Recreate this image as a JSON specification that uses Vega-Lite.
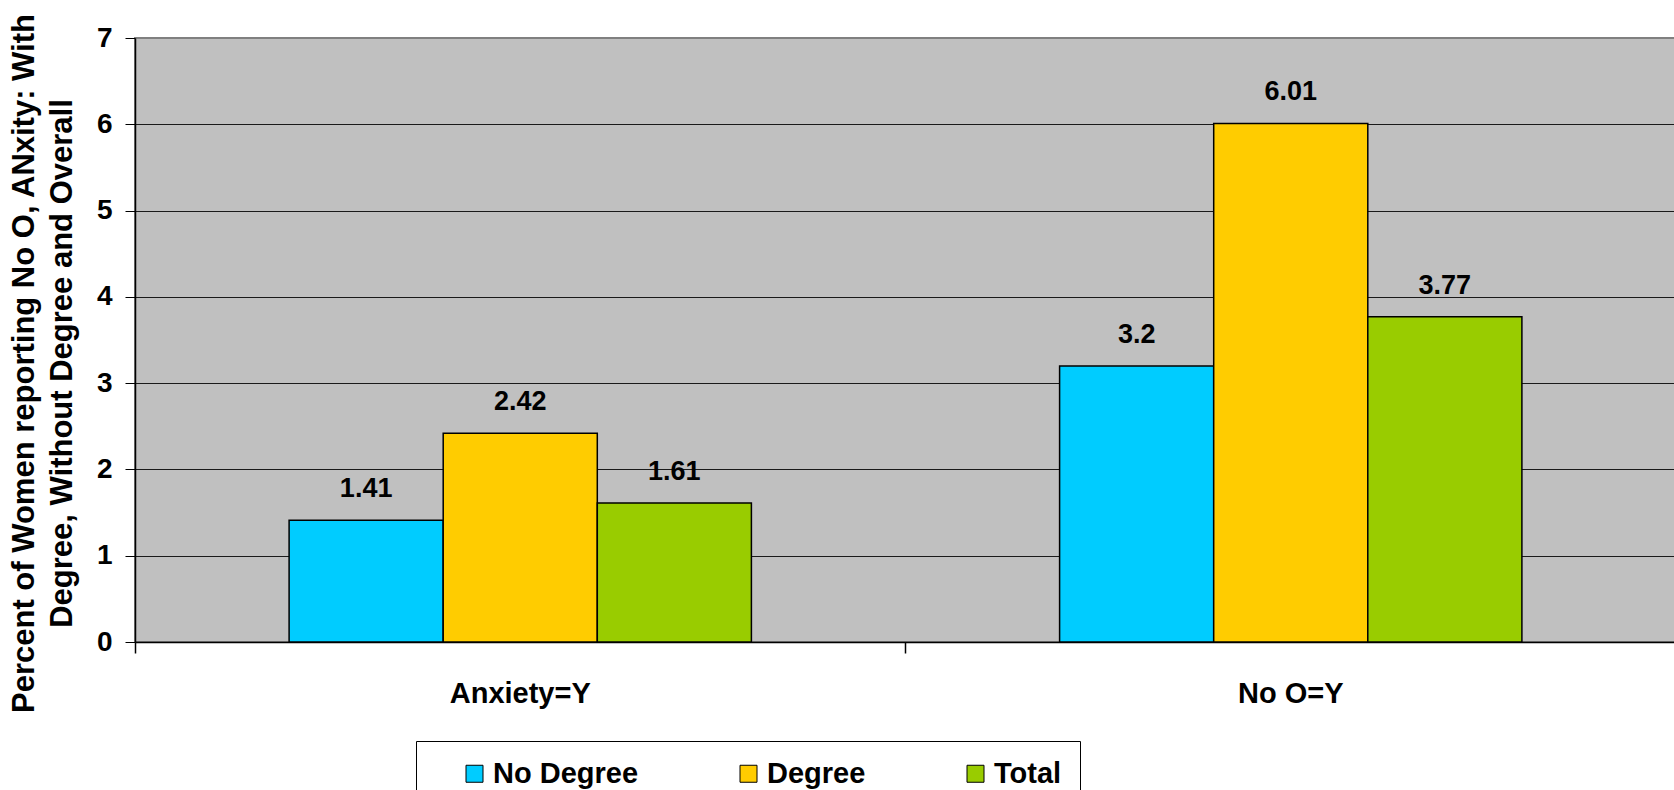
{
  "$schema": "https://vega.github.io/schema/vega-lite/v6.json",
  "width": 1541,
  "height": 604,
  "autosize": "none",
  "padding": {"left": 135, "top": 38, "right": 0, "bottom": 148},
  "background": "white",
  "config": {
    "font": "Liberation Sans",
    "view": {"fill": "#C0C0C0", "stroke": "#808080", "strokeWidth": 2}
  },
  "data": {
    "values": [
      {"group": "Anxiety=Y", "series": "No Degree", "value": 1.41},
      {"group": "Anxiety=Y", "series": "Degree", "value": 2.42},
      {"group": "Anxiety=Y", "series": "Total", "value": 1.61},
      {"group": "No O=Y", "series": "No Degree", "value": 3.2},
      {"group": "No O=Y", "series": "Degree", "value": 6.01},
      {"group": "No O=Y", "series": "Total", "value": 3.77}
    ]
  },
  "encoding": {
    "x": {
      "field": "group",
      "type": "nominal",
      "sort": ["Anxiety=Y", "No O=Y"],
      "scale": {"paddingInner": 0, "paddingOuter": 0},
      "axis": {
        "title": null,
        "labelAngle": 0,
        "labelFontSize": 29,
        "labelFontWeight": "bold",
        "labelColor": "black",
        "labelBaseline": "alphabetic",
        "labelPadding": 49,
        "ticks": true,
        "tickSize": 11,
        "tickColor": "black",
        "tickWidth": 1.5,
        "bandPosition": 0,
        "domainColor": "black",
        "domainWidth": 1.5,
        "grid": false
      }
    },
    "xOffset": {
      "field": "series",
      "type": "nominal",
      "sort": ["No Degree", "Degree", "Total"],
      "scale": {"paddingInner": 0, "paddingOuter": 1}
    },
    "y": {
      "field": "value",
      "type": "quantitative",
      "scale": {"domain": [0, 7], "nice": false},
      "axis": {
        "values": [0, 1, 2, 3, 4, 5, 6, 7],
        "title": ["Percent of Women reporting No O, ANxity: With", "Degree, Without Degree and Overall"],
        "titleFontSize": 31,
        "titleFontWeight": "bold",
        "titleColor": "black",
        "titleAngle": -90,
        "titleAlign": "center",
        "titleBaseline": "alphabetic",
        "titleX": -102,
        "titleY": 325,
        "titleLineHeight": 38,
        "labelFontSize": 28,
        "labelFontWeight": "bold",
        "labelColor": "black",
        "labelPadding": 13,
        "tickSize": 10,
        "tickColor": "black",
        "domainColor": "black",
        "domainWidth": 1.5,
        "grid": true,
        "gridColor": "#1a1a1a",
        "gridWidth": 1,
        "gridOpacity": {"condition": {"test": "datum.value === 7", "value": 0}, "value": 1}
      }
    }
  },
  "layer": [
    {
      "mark": {"type": "bar", "stroke": "black", "strokeWidth": 1.5},
      "encoding": {
        "color": {
          "field": "series",
          "type": "nominal",
          "scale": {
            "domain": ["No Degree", "Degree", "Total"],
            "range": ["#00CCFF", "#FFCC00", "#99CC00"]
          },
          "legend": {
            "orient": "none",
            "legendX": 281,
            "legendY": 703,
            "direction": "horizontal",
            "title": " ",
            "titleOrient": "left",
            "titlePadding": 26,
            "titleFontSize": 28,
            "padding": 18,
            "strokeColor": "black",
            "fillColor": "white",
            "symbolType": "square",
            "symbolSize": 289,
            "symbolStrokeColor": "black",
            "symbolStrokeWidth": 1,
            "symbolOpacity": 1,
            "labelFontSize": 29,
            "labelFontWeight": "bold",
            "labelColor": "black",
            "labelOffset": 4,
            "columnPadding": 95,
            "labelExpr": "datum.label === 'Total' ? 'Total\u00a0\u00a0\u00a0' : datum.label"
          }
        }
      }
    },
    {
      "mark": {
        "type": "text",
        "baseline": "alphabetic",
        "dy": -23,
        "fontSize": 27,
        "fontWeight": "bold",
        "color": "black"
      },
      "encoding": {
        "text": {"field": "value", "type": "quantitative"}
      }
    }
  ]
}
